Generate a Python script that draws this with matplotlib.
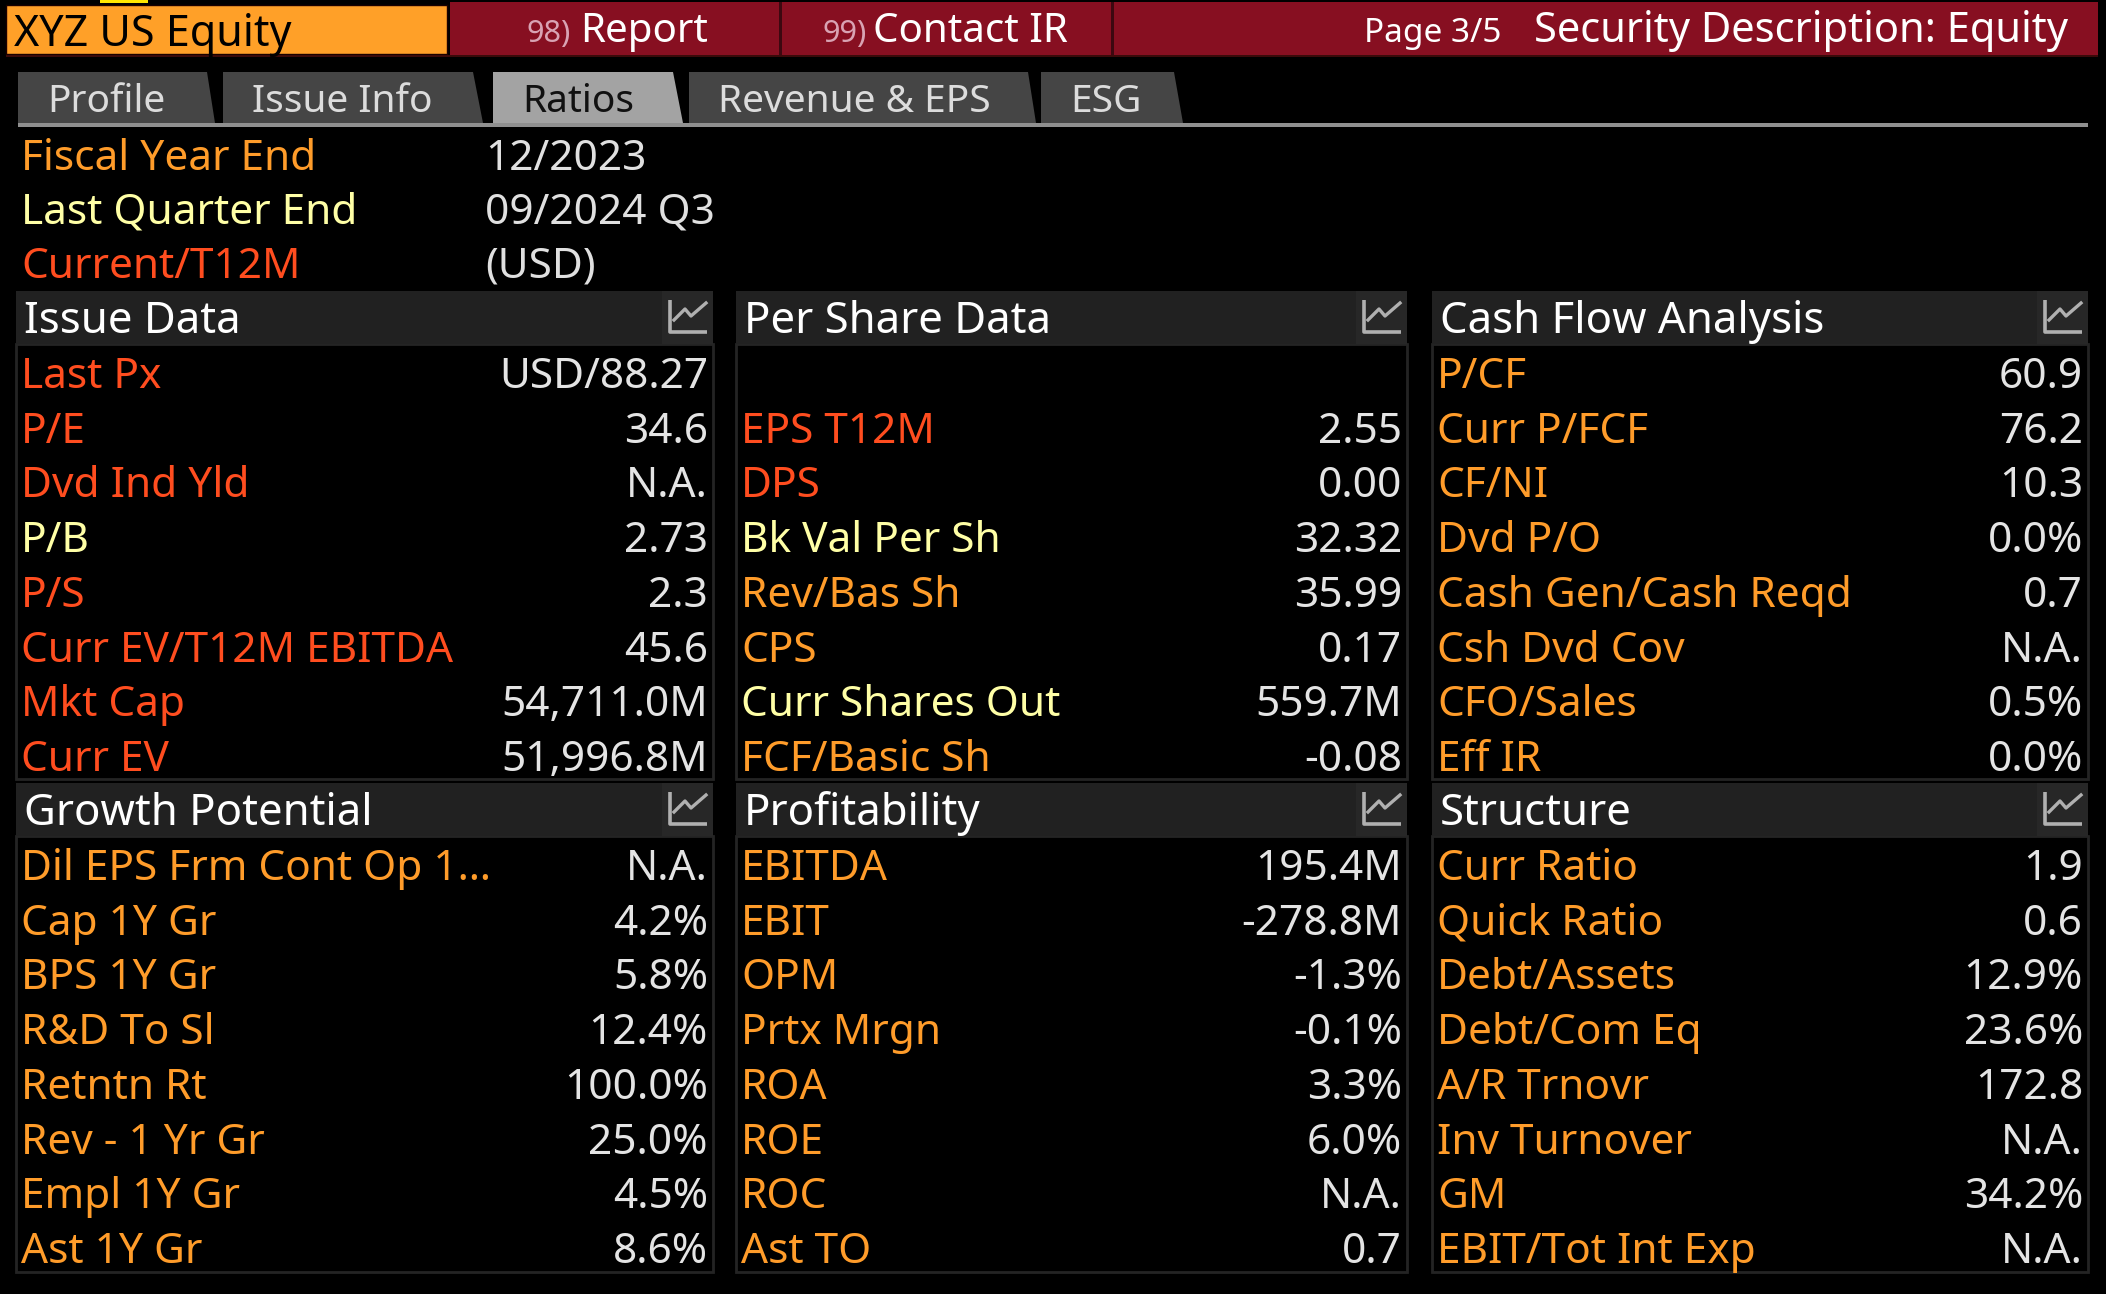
import matplotlib
matplotlib.use("Agg")
import matplotlib.pyplot as plt
from matplotlib.patches import Rectangle, Polygon

plt.rcParams['font.family'] = ['Noto Sans', 'DejaVu Sans']

# ---- data ----
ticker = "XYZ US Equity"
menu_items = [("98)", "Report"), ("99)", "Contact IR")]
page_text = "Page 3/5"
title_text = "Security Description: Equity"
tabs = ["Profile", "Issue Info", "Ratios", "Revenue & EPS", "ESG"]
active_tab = "Ratios"

info_labels = ["Fiscal Year End", "Last Quarter End", "Current/T12M"]
info_values = ["12/2023", "09/2024 Q3", "(USD)"]
info_colors = "OYR"

issue_labels = ["Last Px", "P/E", "Dvd Ind Yld", "P/B", "P/S",
                "Curr EV/T12M EBITDA", "Mkt Cap", "Curr EV"]
issue_values = ["USD/88.27", "34.6", "N.A.", "2.73", "2.3", "45.6",
                "54,711.0M", "51,996.8M"]
issue_colors = "RRRYRRRR"

pershare_labels = ["", "EPS T12M", "DPS", "Bk Val Per Sh", "Rev/Bas Sh", "CPS",
                   "Curr Shares Out", "FCF/Basic Sh"]
pershare_values = ["", "2.55", "0.00", "32.32", "35.99", "0.17", "559.7M", "-0.08"]
pershare_colors = "ORRYOOYO"

cashflow_labels = ["P/CF", "Curr P/FCF", "CF/NI", "Dvd P/O", "Cash Gen/Cash Reqd",
                   "Csh Dvd Cov", "CFO/Sales", "Eff IR"]
cashflow_values = ["60.9", "76.2", "10.3", "0.0%", "0.7", "N.A.", "0.5%", "0.0%"]
cashflow_colors = "OOOOOOOO"

growth_labels = ["Dil EPS Frm Cont Op 1\u2026", "Cap 1Y Gr", "BPS 1Y Gr", "R&D To Sl",
                 "Retntn Rt", "Rev - 1 Yr Gr", "Empl 1Y Gr", "Ast 1Y Gr"]
growth_values = ["N.A.", "4.2%", "5.8%", "12.4%", "100.0%", "25.0%", "4.5%", "8.6%"]
growth_colors = "OOOOOOOO"

profit_labels = ["EBITDA", "EBIT", "OPM", "Prtx Mrgn", "ROA", "ROE", "ROC", "Ast TO"]
profit_values = ["195.4M", "-278.8M", "-1.3%", "-0.1%", "3.3%", "6.0%", "N.A.", "0.7"]
profit_colors = "OOOOOOOO"

struct_labels = ["Curr Ratio", "Quick Ratio", "Debt/Assets", "Debt/Com Eq",
                 "A/R Trnovr", "Inv Turnover", "GM", "EBIT/Tot Int Exp"]
struct_values = ["1.9", "0.6", "12.9%", "23.6%", "172.8", "N.A.", "34.2%", "N.A."]
struct_colors = "OOOOOOOO"

panels_top = [("Issue Data", issue_labels, issue_values, issue_colors),
              ("Per Share Data", pershare_labels, pershare_values, pershare_colors),
              ("Cash Flow Analysis", cashflow_labels, cashflow_values, cashflow_colors)]
panels_bottom = [("Growth Potential", growth_labels, growth_values, growth_colors),
                 ("Profitability", profit_labels, profit_values, profit_colors),
                 ("Structure", struct_labels, struct_values, struct_colors)]

# ---- style ----
W, H = 2106, 1294
label_col = {'O': '#ff9c2a', 'R': '#ff4d1f', 'Y': '#ffffa6'}
value_col = '#e4e4e4'
orange_box = '#ffa028'
bar_red = '#870f21'
hdr_bg = '#212121'
border = '#242424'
row_fs = 30.5
hdr_fs = 31.5
row_step = 54.7

fig = plt.figure(figsize=(W / 100, H / 100), dpi=100, facecolor='black')
ax = fig.add_axes([0, 0, 1, 1])
ax.set_xlim(0, W)
ax.set_ylim(H, 0)
ax.axis('off')
ax.set_facecolor('black')

# top bar
ax.add_patch(Rectangle((100, 0), 48, 3, color='#ffe600', lw=0))
ax.add_patch(Rectangle((450, 2), 1648, 53, color=bar_red, lw=0))
ax.add_patch(Rectangle((6, 5), 441, 49, facecolor=orange_box, edgecolor='#1a0000', lw=1))
ax.add_patch(Rectangle((6, 55), 2092, 2, color='#3a0a0a', lw=0))
for sx in [779, 1111]:
    ax.add_patch(Rectangle((sx, 2), 3, 53, color='#3c0810', lw=0))
ax.text(14, 46, ticker, fontsize=31, color='black', va='baseline', ha='left')

num_x = [527, 822]
name_x = [580, 873]
for (num, name), nx, mx in zip(menu_items, num_x, name_x):
    ax.text(nx, 42, num, fontsize=22, color='#d9a3b3', va='baseline', ha='left')
    ax.text(mx, 42, name, fontsize=29, color='white', va='baseline', ha='left')
ax.text(1501, 42, page_text, fontsize=24, color='white', va='baseline', ha='right')
ax.text(2068, 42, title_text, fontsize=30, color='white', va='baseline', ha='right')

# tabs
tab_x = [(18, 207, 215), (223, 473, 483), (493, 673, 683), (689, 1028, 1036), (1041, 1174, 1183)]
for name, (x0, x1t, x1b) in zip(tabs, tab_x):
    active = name == active_tab
    ax.add_patch(Polygon([(x0, 123), (x0, 72), (x1t, 72), (x1b, 123)], closed=True,
                         facecolor='#a3a3a3' if active else '#454545', lw=0))
    ax.text(x0 + 29, 112, name, fontsize=28, va='baseline', ha='left',
            color='#111111' if active else '#dcdcdc')
ax.add_patch(Rectangle((18, 123), 2070, 4, color='#8f8f8f', lw=0))

# info lines
for i, (lab, val, c) in enumerate(zip(info_labels, info_values, info_colors)):
    yb = 170 + i * 54
    ax.text(21, yb, lab, fontsize=row_fs, color=label_col[c], va='baseline')
    ax.text(485, yb, val, fontsize=row_fs, color='#e0e0e0', va='baseline')

# panels
col_left = [16, 736, 1432]
col_right = [713, 1407, 2088]


def draw_icon(xr, ytop):
    ax.add_patch(Rectangle((xr - 51, ytop), 51, 53, color='#272727', lw=0))
    ax.plot([xr - 43, xr - 43, xr - 6], [ytop + 9, ytop + 41, ytop + 41],
            color='#b0b0b0', lw=2.6, solid_capstyle='butt')
    ax.plot([xr - 39, xr - 28, xr - 22, xr - 7], [ytop + 29, ytop + 18, ytop + 25, ytop + 12],
            color='#b0b0b0', lw=2.4)


def draw_section(panels, htop, hbot, body_bot, base0):
    for (title, labels, values, colors), xl, xr in zip(panels, col_left, col_right):
        ax.add_patch(Rectangle((xl, hbot), xr - xl, body_bot - hbot, facecolor='black',
                               edgecolor=border, lw=2))
        ax.add_patch(Rectangle((xl, htop), xr - xl, hbot - htop, color=hdr_bg, lw=0))
        draw_icon(xr, htop)
        ax.text(xl + 8, hbot - 11, title, fontsize=hdr_fs, color='white', va='baseline')
        for i, (lab, val, c) in enumerate(zip(labels, values, colors)):
            yb = base0 + i * row_step
            ax.text(xl + 5, yb, lab, fontsize=row_fs, color=label_col[c], va='baseline')
            ax.text(xr - 5, yb, val, fontsize=row_fs, color=value_col, va='baseline',
                    ha='right')


draw_section(panels_top, 291, 344, 779, 388)
draw_section(panels_bottom, 783, 836, 1272, 880)

fig.savefig('out.png', dpi=100, facecolor='black')
